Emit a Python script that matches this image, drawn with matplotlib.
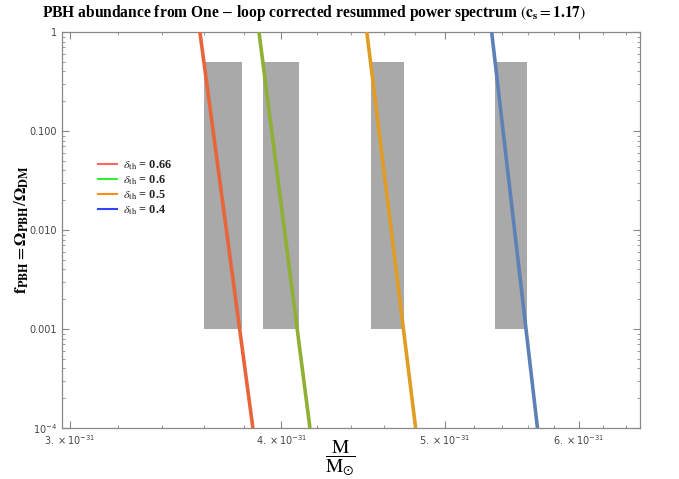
import numpy as np
import matplotlib
matplotlib.use("Agg")
import matplotlib.pyplot as plt
from matplotlib.ticker import FixedLocator, NullFormatter

# ---- data ----
delta_th = ["0.66", "0.6", "0.5", "0.4"]
line_colors = ["#E8653A", "#8FB032", "#E19C24", "#5E81B5"]
legend_colors = ["#FF6666", "#33EE33", "#FF8C1A", "#3344FF"]
f_ends = [1.0, 1e-4]
x_top = [3.580e-31, 3.880e-31, 4.494e-31, 5.327e-31]
x_bottom = [3.848e-31, 4.159e-31, 4.803e-31, 5.670e-31]
rect_x0 = [3.60e-31, 3.90e-31, 4.52e-31, 5.35e-31]
rect_x1 = [3.79e-31, 4.10e-31, 4.73e-31, 5.59e-31]
rect_f0 = 1e-3
rect_f1 = 0.5
x_major = [3e-31, 4e-31, 5e-31, 6e-31]
x_major_labels = [r"$3.\times10^{-31}$", r"$4.\times10^{-31}$", r"$5.\times10^{-31}$", r"$6.\times10^{-31}$"]
y_major = [1e-4, 1e-3, 1e-2, 1e-1, 1]
y_major_labels = [r"$10^{-4}$", "0.001", "0.010", "0.100", "1"]

plt.rcParams["mathtext.fontset"] = "stix"

fig = plt.figure(figsize=(6.79, 4.79), dpi=100)
ax = fig.add_axes([62/679, 1-428/479, (640-62)/679, (428-32)/479])
ax.set_xscale("log")
ax.set_yscale("log")
ax.set_xlim(2.967e-31, 6.52e-31)
ax.set_ylim(1e-4, 1)

for a, b in zip(rect_x0, rect_x1):
    ax.fill_between([a, b], [rect_f0, rect_f0], [rect_f1, rect_f1], color="#A9A9A9", lw=0, zorder=1)

for xt, xb, c in zip(x_top, x_bottom, line_colors):
    ax.plot([xt, xb], f_ends, color=c, lw=2.6, zorder=3, solid_capstyle="butt")

# legend
handles = [plt.Line2D([], [], color=c, lw=1.5) for c in legend_colors]
labels = [r"$\delta_{\mathrm{th}}$ = " + d for d in delta_th]
leg = ax.legend(handles, labels, loc="upper left", bbox_to_anchor=(0.048, 0.703),
                frameon=False, handlelength=1.5, labelspacing=0.12,
                handletextpad=0.55, borderpad=0.2,
                prop={"family": "Liberation Serif", "weight": "bold", "size": 8.8})
for t in leg.get_texts():
    t.set_color("#222222")
    t.set_math_fontfamily("stix")

# ticks
ax.xaxis.set_major_locator(FixedLocator(x_major))
ax.set_xticklabels(x_major_labels)
minor_x = [v * 1e-31 for v in [3.2, 3.4, 3.6, 3.8, 4.2, 4.4, 4.6, 4.8, 5.2, 5.4, 5.6, 5.8, 6.2, 6.4]]
ax.xaxis.set_minor_locator(FixedLocator(minor_x))
ax.xaxis.set_minor_formatter(NullFormatter())
ax.yaxis.set_major_locator(FixedLocator(y_major))
ax.set_yticklabels(y_major_labels)
minor_y = [m * 10.0**e for e in range(-4, 0) for m in range(2, 10)]
ax.yaxis.set_minor_locator(FixedLocator(minor_y))
ax.yaxis.set_minor_formatter(NullFormatter())
ax.tick_params(which="both", direction="in", top=True, right=True, color="#888888",
               labelsize=7, labelcolor="#444444")
ax.tick_params(which="major", length=5, width=0.8)
ax.tick_params(which="minor", length=2.5, width=0.6)
ax.tick_params(axis="x", which="major", pad=4)
for s in ax.spines.values():
    s.set_color("#888888")
    s.set_linewidth(0.9)
for t in ax.get_xticklabels() + ax.get_yticklabels():
    t.set_math_fontfamily("dejavusans")

fig.text(314/679, 1 - 13/479,
         r"PBH abundance from One $-$ loop corrected resummed power spectrum $(\mathbf{c_s} = \mathbf{1.17})$",
         ha="center", va="center", fontsize=11.2, family="Liberation Serif", weight="bold")
fig.text(22/679, 1 - 230/479,
         r"$\mathbf{f_{PBH}} = \mathbf{\Omega_{PBH}} / \mathbf{\Omega_{DM}}$",
         rotation=90, ha="center", va="center", fontsize=12.5)
fig.text(340/679, 1 - 458/479, r"$\dfrac{\mathrm{M}}{\mathrm{M_{\odot}}}$",
         ha="center", va="center", fontsize=14, weight="bold")

fig.savefig("out.png", dpi=100)
